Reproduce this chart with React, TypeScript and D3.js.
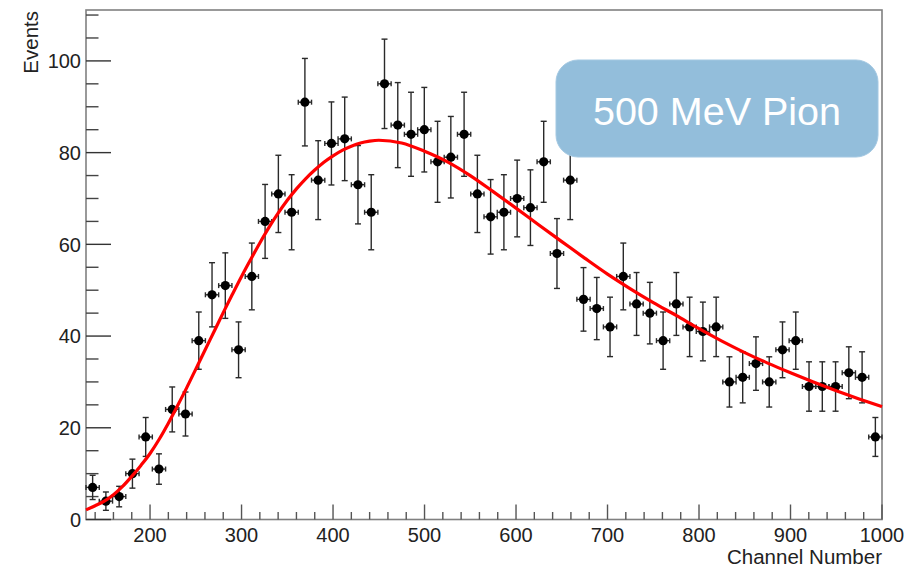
import React from 'react';
import * as d3 from 'd3';

// Histogram binning (channel axis)
const binLow = 130;
const binHigh = 1000;
const binCount = 60;

// Events per bin
const counts = [
  7, 4, 5, 10, 18, 11, 24, 23, 39, 49,
  51, 37, 53, 65, 71, 67, 91, 74, 82, 83,
  73, 67, 95, 86, 84, 85, 78, 79, 84, 71,
  66, 67, 70, 68, 78, 58, 74, 48, 46, 42,
  53, 47, 45, 39, 47, 42, 41, 42, 30, 31,
  34, 30, 37, 39, 29, 29, 29, 32, 31, 18,
];

// Fit curve samples
const fitX = [
  130, 140, 150, 160, 170, 180, 190, 200, 210, 220,
  230, 240, 250, 260, 270, 280, 290, 300, 310, 320,
  330, 340, 350, 360, 370, 380, 390, 400, 410, 420,
  430, 440, 450, 475, 500, 525, 550, 575, 600, 625,
  650, 675, 700, 725, 750, 775, 800, 825, 850, 875,
  900, 925, 950, 975, 1000,
];
const fitY = [
  2.1, 3.0, 4.0, 5.4, 7.2, 9.4, 11.8, 14.4, 17.5, 21.0,
  24.8, 28.7, 32.8, 36.9, 41.0, 45.1, 49.1, 53.0, 56.7, 60.3,
  63.7, 66.8, 69.6, 72.1, 74.3, 76.2, 77.9, 79.3, 80.5, 81.4,
  82.1, 82.5, 82.7, 82.1, 80.3, 78.0, 75.0, 71.5, 67.9, 64.2,
  60.6, 57.0, 53.5, 50.3, 47.3, 44.5, 41.6, 38.9, 36.4, 34.1,
  32.0, 30.0, 28.1, 26.3, 24.6,
];

const xMajorTicks = [200, 300, 400, 500, 600, 700, 800, 900, 1000];
const yMajorTicks = [0, 20, 40, 60, 80, 100];
const xTitle = 'Channel Number';
const yTitle = 'Events';
const boxLabel = '500 MeV Pion';

const W = 908;
const H = 568;
const FONT = '"Liberation Sans", Arial, Helvetica, sans-serif';

export default function App() {
  const x = d3.scaleLinear().domain([binLow, binHigh]).range([86, 882]);
  const y = d3.scaleLinear().domain([0, 111.1]).range([519.5, 10]);
  const bw = (binHigh - binLow) / binCount;

  const xMinor = d3.range(140, 1000, 20).filter((v) => v % 100 !== 0);
  const yMinor = d3.range(0, 111, 5).filter((v) => v % 20 !== 0);

  const line = d3
    .line<number>()
    .x((_, i) => x(fitX[i]))
    .y((d) => y(d))
    .curve(d3.curveMonotoneX);

  const [x0, x1] = x.range();
  const [yb, yt] = y.range();

  return (
    <svg
      width={W}
      height={H}
      style={{ position: 'absolute', left: 0, top: 0, background: '#fff' }}
      fontFamily={FONT}
    >
      <rect x={0} y={0} width={W} height={H} fill="#fff" />
      {/* frame */}
      <rect x={x0} y={yt} width={x1 - x0} height={yb - yt} fill="none" stroke="#808080" strokeWidth={1.6} />

      {/* x ticks */}
      {xMajorTicks.map((t) => (
        <g key={'xm' + t}>
          <line x1={x(t)} x2={x(t)} y1={yb} y2={yb - 15} stroke="#555" strokeWidth={1.4} />
          <text x={x(t)} y={542} fontSize={20} textAnchor="middle" fill="#222">
            {t}
          </text>
        </g>
      ))}
      {xMinor.map((t) => (
        <line key={'xn' + t} x1={x(t)} x2={x(t)} y1={yb} y2={yb - 7.5} stroke="#555" strokeWidth={1.4} />
      ))}

      {/* y ticks */}
      {yMajorTicks.map((t) => (
        <g key={'ym' + t}>
          <line x1={x0} x2={x0 + 25} y1={y(t)} y2={y(t)} stroke="#333" strokeWidth={1.4} />
          <text x={81} y={y(t)} dy="0.36em" fontSize={20} textAnchor="end" fill="#222">
            {t}
          </text>
        </g>
      ))}
      {yMinor.map((t) => (
        <line key={'yn' + t} x1={x0} x2={x0 + 12.5} y1={y(t)} y2={y(t)} stroke="#444" strokeWidth={1.4} />
      ))}

      {/* axis titles */}
      <text x={882} y={564} fontSize={20.5} textAnchor="end" fill="#222">
        {xTitle}
      </text>
      <text transform="translate(38,11) rotate(-90)" fontSize={20.5} textAnchor="end" fill="#222">
        {yTitle}
      </text>

      {/* data points with errors */}
      {counts.map((c, i) => {
        const lo = binLow + i * bw;
        const cx = x(lo + bw / 2);
        const cy = y(c);
        const e = Math.sqrt(c);
        const yTop = y(c + e);
        const yBot = y(Math.max(0, c - e));
        const xl = x(lo);
        const xr = x(lo + bw);
        return (
          <g key={'p' + i} stroke="#2a2a2a" strokeWidth={1.4}>
            <line x1={cx} x2={cx} y1={yTop} y2={yBot} />
            <line x1={cx - 3} x2={cx + 3} y1={yTop} y2={yTop} />
            <line x1={cx - 3} x2={cx + 3} y1={yBot} y2={yBot} />
            <line x1={xl} x2={xr} y1={cy} y2={cy} />
            <line x1={xl} x2={xl} y1={cy - 2.5} y2={cy + 2.5} />
            <line x1={xr} x2={xr} y1={cy - 2.5} y2={cy + 2.5} />
            <circle cx={cx} cy={cy} r={4.6} fill="#000" stroke="none" />
          </g>
        );
      })}

      {/* fit curve */}
      <path d={line(fitY) || ''} fill="none" stroke="#ff0000" strokeWidth={3.2} strokeLinejoin="round" />

      {/* label box */}
      <rect x={556} y={60} width={322} height={97} rx={22} ry={22} fill="#93bedb" stroke="#a3c8e2" strokeWidth={1} />
      <text x={717} y={125} fontSize={39.5} textAnchor="middle" fill="#fff">
        {boxLabel}
      </text>
    </svg>
  );
}
